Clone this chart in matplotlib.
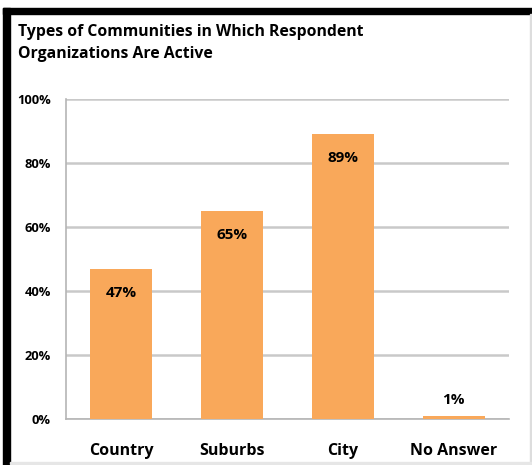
import matplotlib.pyplot as plt
from matplotlib.patches import Rectangle

plt.rcParams['font.family'] = ['Open Sans', 'DejaVu Sans']

categories = ["Country", "Suburbs", "City", "No Answer"]
shares = [47, 65, 89, 1]
yticks = [0, 20, 40, 60, 80, 100]
title = "Types of Communities in Which Respondent\nOrganizations Are Active"

bar_color = "#F9A85A"
grid_color = "#c9c9c9"

fig = plt.figure(figsize=(5.32, 4.65), dpi=100)
W, H = 532, 465

# frame around the figure: heavy black on left/top, thin grey on right/bottom
fig.patches.append(Rectangle((3 / W, 0), 7 / W, 1 - 8 / H, transform=fig.transFigure,
                             color="black", zorder=0))
fig.patches.append(Rectangle((3 / W, 1 - 14 / H), 1 - 3 / W, 6 / H, transform=fig.transFigure,
                             color="black", zorder=0))
fig.patches.append(Rectangle((530 / W, 0), 1.5 / W, 1 - 14 / H, transform=fig.transFigure,
                             color="#dddddd", zorder=0))
fig.patches.append(Rectangle((10 / W, 1.5 / H), 1 - 10 / W, 1.5 / H, transform=fig.transFigure,
                             color="#e6e6e6", zorder=0))

fig.text(18 / W, 1 - 24 / H, title, ha="left", va="top", fontsize=11.3,
         fontweight="bold", linespacing=1.5)

ax = fig.add_axes([66 / W, 46 / H, 443 / W, 320 / H])
x = range(len(categories))
ax.bar(x, shares, width=0.56, color=bar_color, zorder=3)

for i, v in enumerate(shares):
    if v > 10:
        ax.text(i, v - 7.5, f"{v}%", ha="center", va="center", fontsize=11,
                fontweight="bold", zorder=4)
    else:
        ax.text(i, v + 5, f"{v}%", ha="center", va="center", fontsize=11,
                fontweight="bold", zorder=4)

ax.set_xlim(-0.5, len(categories) - 0.5)
ax.set_ylim(0, 100)
ax.set_yticks(yticks)
ax.set_yticklabels([f"{t}%" for t in yticks], fontsize=9.3, fontweight="bold")
ax.set_xticks(list(x))
ax.set_xticklabels(categories, fontsize=11.5, fontweight="bold")
ax.tick_params(axis="both", length=0)
ax.tick_params(axis="y", pad=11)
ax.tick_params(axis="x", pad=17)

ax.yaxis.grid(True, color=grid_color, linewidth=1.8, zorder=0)
ax.set_axisbelow(True)
for side in ["top", "right"]:
    ax.spines[side].set_visible(False)
for side in ["left", "bottom"]:
    ax.spines[side].set_color("#b5b5b5")
    ax.spines[side].set_linewidth(1.2)

fig.savefig("out.png", dpi=100)
